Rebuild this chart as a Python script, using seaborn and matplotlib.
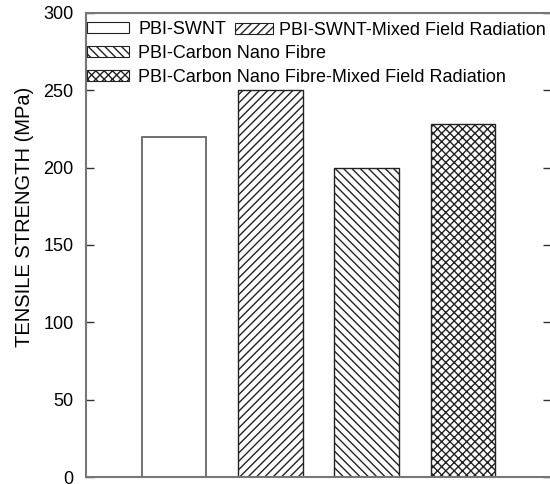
import matplotlib
matplotlib.use("Agg")
import matplotlib.pyplot as plt
import matplotlib.patches as mpatches
import pandas as pd
import seaborn as sns

# data
samples = [
    "PBI-SWNT",
    "PBI-SWNT-Mixed Field Radiation",
    "PBI-Carbon Nano Fibre",
    "PBI-Carbon Nano Fibre-Mixed Field Radiation",
]
strength = [220, 250, 200, 228]
hatches = ["", "////", "\\\\\\\\", "xxxx"]

sns.set_theme(style="ticks")
plt.rcParams["font.family"] = ["Liberation Sans", "DejaVu Sans"]
plt.rcParams["hatch.linewidth"] = 1.0
plt.rcParams["text.color"] = "black"
plt.rcParams["axes.labelcolor"] = "black"
plt.rcParams["ytick.color"] = "black"

df = pd.DataFrame({"sample": samples, "strength": strength})

fig = plt.figure(figsize=(5.5, 4.84), dpi=100)
ax = fig.add_axes([86 / 550, 7 / 484, 465 / 550, 464 / 484])

sns.barplot(data=df, x="sample", y="strength", color="white", width=0.667,
            edgecolor="#222222", linewidth=1.0, ax=ax)
for bar, h in zip(ax.patches, hatches):
    bar.set_hatch(h)
    bar.set_facecolor("white")
ax.patches[0].set_edgecolor("#666666")
ax.patches[0].set_linewidth(1.3)

ax.set_xlim(-0.92, 3.92)
ax.set_ylim(0, 300)
ax.set_yticks([0, 50, 100, 150, 200, 250, 300])
ax.set_xticks([])
ax.set_xlabel("")
ax.set_ylabel("TENSILE STRENGTH (MPa)", fontsize=14.5)
# label sits a bit above the axes middle in the reference
ax.yaxis.set_label_coords(-0.112, 0.56)
ax.tick_params(axis="y", direction="in", length=6, width=1, color="#333333",
               labelsize=13, right=True, pad=9)
for side in ["left", "top", "bottom", "right"]:
    ax.spines[side].set_color("#777777")
    ax.spines[side].set_linewidth(1.5)

handles = [mpatches.Patch(facecolor="white", edgecolor="#222222", hatch=h, linewidth=0.8)
           for h in hatches]

legA = ax.legend([handles[0], handles[2], handles[3]], [samples[0], samples[2], samples[3]],
                 loc="upper left", bbox_to_anchor=(87 / 550, 1 - 21 / 484),
                 bbox_transform=fig.transFigure, frameon=False, fontsize=13,
                 borderpad=0, borderaxespad=0, handlelength=2.35, handleheight=0.62,
                 handletextpad=0.5, labelspacing=0.38)
ax.add_artist(legA)
ax.legend([handles[1]], [samples[1]],
          loc="upper left", bbox_to_anchor=(235 / 550, 1 - 22 / 484),
          bbox_transform=fig.transFigure, frameon=False, fontsize=13,
          borderpad=0, borderaxespad=0, handlelength=2.1, handleheight=0.62,
          handletextpad=0.35)

fig.savefig("out.png", dpi=100)
